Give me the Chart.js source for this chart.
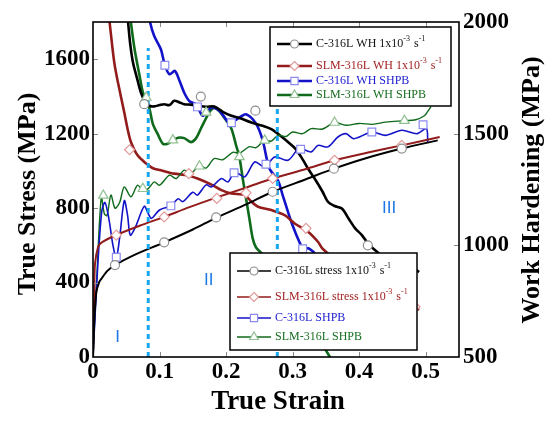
<!DOCTYPE html>
<html>
<head>
<meta charset="utf-8">
<script src="https://cdn.jsdelivr.net/npm/chart.js@4.4.1/dist/chart.umd.min.js"></script>
<style>
  html, body { margin: 0; padding: 0; background: #fff; }
  #wrap { width: 551px; height: 422px; }
</style>
</head>
<body>
<div id="wrap"><canvas id="chart" width="551" height="422"></canvas></div>
<script>
// axis ticks
const strainTicks = [0, 0.1, 0.2, 0.3, 0.4, 0.5];
const stressTicks = [0, 400, 800, 1200, 1600];
const whTicks = [500, 1000, 1500, 2000];

// true stress curves (left axis)
const cQsStrain = [0, 0.002, 0.005, 0.009, 0.0125, 0.022, 0.033, 0.06, 0.107, 0.15, 0.185, 0.23, 0.27, 0.32, 0.362, 0.41, 0.464, 0.518];
const cQsStress = [0, 200, 348, 400, 420, 464, 494, 545, 616, 685, 748, 820, 888, 955, 1012, 1068, 1120, 1164];

const slmQsStrain = [0, 0.002, 0.003, 0.0075, 0.012, 0.02, 0.034, 0.07, 0.107, 0.145, 0.184, 0.23, 0.27, 0.32, 0.363, 0.415, 0.464, 0.521];
const slmQsStress = [0, 380, 500, 590, 612, 630, 654, 705, 753, 805, 855, 910, 959, 1010, 1057, 1100, 1137, 1182];

const cDynStrain = [0, 0.006, 0.013, 0.018, 0.024, 0.03, 0.035, 0.04, 0.047, 0.052, 0.056, 0.064, 0.077, 0.083, 0.088, 0.1, 0.117, 0.128, 0.135, 0.15, 0.157, 0.17, 0.178, 0.193, 0.203, 0.213, 0.228, 0.243, 0.258, 0.273, 0.293, 0.31, 0.328, 0.338, 0.353, 0.368, 0.38, 0.392, 0.419, 0.44, 0.464, 0.487, 0.501, 0.503];
const cDynStress = [0, 420, 780, 830, 740, 600, 534, 640, 840, 760, 655, 700, 810, 770, 745, 790, 812, 850, 835, 885, 870, 925, 914, 959, 941, 995, 968, 1048, 1021, 1075, 1057, 1120, 1102, 1137, 1129, 1182, 1200, 1173, 1209, 1191, 1218, 1200, 1227, 1150];

const slmDynStrain = [0, 0.006, 0.0125, 0.017, 0.021, 0.027, 0.033, 0.04, 0.047, 0.057, 0.067, 0.075, 0.083, 0.092, 0.1, 0.115, 0.125, 0.137, 0.147, 0.16, 0.17, 0.182, 0.195, 0.21, 0.22, 0.235, 0.245, 0.258, 0.268, 0.278, 0.29, 0.3, 0.315, 0.328, 0.345, 0.363, 0.38, 0.4, 0.42, 0.44, 0.468, 0.485, 0.498, 0.503, 0.508];
const slmDynStress = [0, 450, 860, 770, 760, 870, 800, 830, 914, 861, 923, 896, 905, 941, 923, 977, 959, 1004, 986, 1030, 1015, 1066, 1060, 1100, 1095, 1130, 1125, 1164, 1160, 1191, 1185, 1209, 1200, 1227, 1225, 1260, 1245, 1255, 1250, 1262, 1270, 1275, 1296, 1320, 1345];

// work hardening curves (right axis)
const cQsWhStrain = [0.051, 0.053, 0.056, 0.06, 0.066, 0.072, 0.078, 0.085, 0.092, 0.1, 0.107, 0.115, 0.122, 0.13, 0.137, 0.147, 0.157, 0.17, 0.182, 0.195, 0.208, 0.22, 0.238, 0.255, 0.268, 0.285, 0.293, 0.305, 0.315, 0.323, 0.333, 0.345, 0.353, 0.363, 0.374, 0.384, 0.394, 0.404, 0.415, 0.43, 0.45, 0.464, 0.475, 0.485, 0.49];
const cQsWh = [2050, 1990, 1900, 1820, 1750, 1684, 1645, 1625, 1622, 1628, 1632, 1628, 1647, 1640, 1632, 1630, 1625, 1620, 1622, 1598, 1580, 1570, 1550, 1535, 1520, 1483, 1463, 1430, 1385, 1344, 1299, 1240, 1195, 1176, 1165, 1120, 1076, 1046, 1002, 963, 903, 858, 850, 890, 880];

const slmQsWhStrain = [0.023, 0.025, 0.032, 0.038, 0.047, 0.052, 0.057, 0.067, 0.08, 0.09, 0.102, 0.122, 0.142, 0.157, 0.178, 0.193, 0.208, 0.228, 0.238, 0.248, 0.268, 0.288, 0.303, 0.323, 0.338, 0.345, 0.38, 0.42, 0.46, 0.484, 0.49];
const slmQsWh = [2050, 1997, 1818, 1722, 1595, 1521, 1463, 1403, 1366, 1345, 1336, 1321, 1314, 1299, 1272, 1247, 1232, 1225, 1195, 1173, 1158, 1135, 1098, 1061, 1016, 985, 900, 820, 760, 724, 710];

const cDynWhStrain = [0.084, 0.086, 0.092, 0.102, 0.108, 0.115, 0.123, 0.13, 0.137, 0.145, 0.155, 0.165, 0.178, 0.19, 0.205, 0.22, 0.23, 0.245, 0.255, 0.265, 0.278, 0.285, 0.293, 0.3, 0.31, 0.315, 0.325, 0.335, 0.35, 0.36];
const cDynWh = [2050, 1997, 1937, 1878, 1806, 1766, 1781, 1737, 1684, 1645, 1632, 1580, 1617, 1603, 1550, 1572, 1587, 1545, 1470, 1345, 1290, 1225, 1150, 1089, 1016, 990, 985, 955, 850, 700];

const slmDynWhStrain = [0.055, 0.057, 0.0625, 0.07, 0.075, 0.08, 0.085, 0.09, 0.097, 0.105, 0.112, 0.12, 0.128, 0.137, 0.147, 0.155, 0.162, 0.17, 0.177, 0.183, 0.19, 0.2, 0.208, 0.215, 0.22, 0.225, 0.23, 0.235, 0.24, 0.245, 0.255, 0.27, 0.29, 0.31, 0.33, 0.35, 0.358];
const slmDynWh = [2050, 1997, 1878, 1759, 1684, 1655, 1610, 1543, 1500, 1455, 1455, 1470, 1482, 1480, 1462, 1480, 1522, 1570, 1605, 1615, 1600, 1560, 1522, 1448, 1396, 1299, 1210, 1120, 1031, 990, 960, 900, 810, 720, 630, 530, 490];

// marker positions
const cQsMarkStrain = [0.033, 0.107, 0.185, 0.27, 0.362, 0.464];
const cQsMarkStress = [494, 616, 750, 888, 1012, 1120];
const cWhMarkStrain = [0.077, 0.162, 0.244, 0.413];
const cWhMark = [1632, 1666, 1603, 1000];
const slmQsMarkStrain = [0.035, 0.107, 0.186, 0.27, 0.363, 0.464];
const slmQsMarkStress = [655, 753, 852, 959, 1057, 1137];
const slmWhMarkStrain = [0.055, 0.144, 0.23, 0.32, 0.484];
const slmWhMark = [1428, 1321, 1235, 1076, 725];
const cDynMarkStrain = [0.035, 0.117, 0.212, 0.26, 0.312, 0.419, 0.496];
const cDynMarkStress = [536, 812, 990, 1036, 1116, 1209, 1248];
const cDynWhMarkStrain = [0.108, 0.157, 0.208, 0.315];
const cDynWhMark = [1806, 1620, 1549, 985];
const slmDynMarkStrain = [0.0155, 0.075, 0.16, 0.258, 0.363, 0.468];
const slmDynMarkStress = [868, 904, 1025, 1164, 1260, 1270];
const slmDynWhMarkStrain = [0.08, 0.12, 0.17, 0.22];
const slmDynWhMark = [1662, 1471, 1595, 1396];

// deformation stage boundaries
const stageStrain = [0.083, 0.277];
const stageTop = [1660, 1340];
const stageNames = ['I', 'II', 'III'];
const stageLabelStrain = [0.037, 0.174, 0.445];
const stageLabelStress = [107, 412, 798];

const whLabels = [
  ['C-316L WH 1x10', '-3', ' s', '-1'],
  ['SLM-316L WH 1x10', '-3', ' s', '-1'],
  ['C-316L WH SHPB'],
  ['SLM-316L WH SHPB'],
];
const stressLabels = [
  ['C-316L stress 1x10', '-3', ' s', '-1'],
  ['SLM-316L stress 1x10', '-3', ' s', '-1'],
  ['C-316L SHPB'],
  ['SLM-316L SHPB'],
];

const SERIF = '"Liberation Serif", "Times New Roman", serif';
const COLORS = ['#000000', '#921c1c', '#1212c8', '#0f6a1c'];
const TEXT_COLORS = ['#111111', '#a22222', '#1b1bd0', '#156d1e'];
const MARK_COLORS = ['#8e8e8e', '#e39a9a', '#8a8af0', '#90bf90'];
const MARK_STYLES = ['circle', 'rectRot', 'rect', 'triangle'];
const MARK_SIZES = [4.5, 5, 5.5, 5.5];

const pts = (xs, ys) => xs.map((v, i) => ({ x: v, y: ys[i] }));

function curve(xs, ys, k, width, axis) {
  return {
    data: pts(xs, ys), yAxisID: axis, borderColor: COLORS[k], borderWidth: width,
    pointRadius: 0, tension: 0.3, fill: false, order: 2,
  };
}

function marks(xs, ys, k, axis) {
  return {
    data: pts(xs, ys), yAxisID: axis, showLine: false,
    pointStyle: MARK_STYLES[k], pointRadius: MARK_SIZES[k],
    pointBorderColor: MARK_COLORS[k], pointBackgroundColor: '#fff', pointBorderWidth: 1.2,
    order: 0,
  };
}

function stageLine(i) {
  return {
    data: [{ x: stageStrain[i], y: 0 }, { x: stageStrain[i], y: stageTop[i] }], yAxisID: 'y',
    borderColor: '#17a6f0', borderWidth: 3, borderDash: [5, 4], pointRadius: 0, order: 1,
  };
}

function drawMarker(ctx, style, x, y, r) {
  ctx.beginPath();
  if (style === 'circle') ctx.arc(x, y, r, 0, Math.PI * 2);
  else if (style === 'rect') { const s = r * 0.72; ctx.rect(x - s, y - s, 2 * s, 2 * s); }
  else if (style === 'rectRot') { ctx.moveTo(x, y - r); ctx.lineTo(x + r, y); ctx.lineTo(x, y + r); ctx.lineTo(x - r, y); ctx.closePath(); }
  else { ctx.moveTo(x, y - r); ctx.lineTo(x + r * 0.87, y + r * 0.5); ctx.lineTo(x - r * 0.87, y + r * 0.5); ctx.closePath(); }
  ctx.fill();
  ctx.stroke();
}

function richText(ctx, parts, x, y) {
  let cx = x;
  parts.forEach((p, i) => {
    const sup = i % 2 === 1;
    ctx.font = (sup ? '8px ' : '12px ') + SERIF;
    ctx.fillText(p, cx, sup ? y - 5 : y);
    cx += ctx.measureText(p).width + (sup ? 1 : 0);
  });
}

function drawLegend(ctx, box, labels) {
  ctx.fillStyle = '#fff';
  ctx.fillRect(box.x, box.y, box.w, box.h);
  ctx.strokeStyle = '#000';
  ctx.lineWidth = 1.5;
  ctx.strokeRect(box.x, box.y, box.w, box.h);
  labels.forEach((parts, k) => {
    const y = box.rows[k];
    ctx.strokeStyle = COLORS[k];
    ctx.lineWidth = box.lw;
    ctx.beginPath();
    ctx.moveTo(box.x0, y);
    ctx.lineTo(box.x1, y);
    ctx.stroke();
    ctx.fillStyle = '#fff';
    ctx.strokeStyle = MARK_COLORS[k];
    ctx.lineWidth = 1.2;
    drawMarker(ctx, MARK_STYLES[k], (box.x0 + box.x1) / 2, y, MARK_SIZES[k] - 0.5);
    ctx.fillStyle = TEXT_COLORS[k];
    ctx.textAlign = 'left';
    ctx.textBaseline = 'middle';
    richText(ctx, parts, box.tx, y);
  });
}

const decor = {
  id: 'decor',
  afterDraw(chart) {
    const { ctx, chartArea: a, scales: { x, y, y2 } } = chart;
    ctx.save();

    // inward tick marks
    ctx.strokeStyle = '#8a8a8a';
    ctx.lineWidth = 1;
    ctx.beginPath();
    strainTicks.slice(1).forEach(v => {
      const px = Math.round(x.getPixelForValue(v)) + 0.5;
      ctx.moveTo(px, a.bottom); ctx.lineTo(px, a.bottom - 5);
      ctx.moveTo(px, a.top); ctx.lineTo(px, a.top + 5);
    });
    stressTicks.slice(1).forEach(v => {
      const py = Math.round(y.getPixelForValue(v)) + 0.5;
      ctx.moveTo(a.left, py); ctx.lineTo(a.left + 5, py);
    });
    whTicks.slice(1, -1).forEach(v => {
      const py = Math.round(y2.getPixelForValue(v)) + 0.5;
      ctx.moveTo(a.right, py); ctx.lineTo(a.right - 5, py);
    });
    ctx.stroke();

    // frame
    ctx.strokeStyle = '#000';
    ctx.lineWidth = 1.6;
    ctx.strokeRect(a.left, a.top, a.right - a.left, a.bottom - a.top);

    // stage labels
    ctx.fillStyle = '#1e78e6';
    ctx.font = '17px "Liberation Sans", Arial, sans-serif';
    ctx.textAlign = 'center';
    ctx.textBaseline = 'middle';
    stageNames.forEach((n, i) => {
      ctx.fillText(n, x.getPixelForValue(stageLabelStrain[i]), y.getPixelForValue(stageLabelStress[i]));
    });

    // legends
    drawLegend(ctx, { x: 270, y: 27, w: 181, h: 79, rows: [44, 66, 81, 95], x0: 277, x1: 312, tx: 316, lw: 2.5 }, whLabels);
    drawLegend(ctx, { x: 230, y: 253, w: 187, h: 97, rows: [271, 297, 318, 337], x0: 237, x1: 271, tx: 275, lw: 1.5 }, stressLabels);

    // axis titles
    ctx.fillStyle = '#000';
    ctx.textAlign = 'center';
    ctx.textBaseline = 'middle';
    ctx.font = 'bold 26px ' + SERIF;
    ctx.save();
    ctx.translate(28, 194);
    ctx.rotate(-Math.PI / 2);
    ctx.fillText('True Stress (MPa)', 0, 0);
    ctx.restore();
    ctx.save();
    ctx.translate(532, 190);
    ctx.rotate(-Math.PI / 2);
    ctx.fillText('Work Hardening (MPa)', 0, 0);
    ctx.restore();
    ctx.font = 'bold 27px ' + SERIF;
    ctx.fillText('True Strain', 278, 402);

    ctx.restore();
  },
};

const tickFont = { family: 'Liberation Serif', size: 23, weight: 'bold' };

new Chart(document.getElementById('chart'), {
  type: 'line',
  data: {
    datasets: [
      marks(cQsMarkStrain, cQsMarkStress, 0, 'y'),
      marks(cWhMarkStrain, cWhMark, 0, 'y2'),
      marks(slmQsMarkStrain, slmQsMarkStress, 1, 'y'),
      marks(slmWhMarkStrain, slmWhMark, 1, 'y2'),
      marks(cDynMarkStrain, cDynMarkStress, 2, 'y'),
      marks(cDynWhMarkStrain, cDynWhMark, 2, 'y2'),
      marks(slmDynMarkStrain, slmDynMarkStress, 3, 'y'),
      marks(slmDynWhMarkStrain, slmDynWhMark, 3, 'y2'),
      stageLine(0),
      stageLine(1),
      curve(cQsStrain, cQsStress, 0, 2, 'y'),
      curve(slmQsStrain, slmQsStress, 1, 2, 'y'),
      curve(cDynStrain, cDynStress, 2, 1.6, 'y'),
      curve(slmDynStrain, slmDynStress, 3, 1.4, 'y'),
      curve(cQsWhStrain, cQsWh, 0, 2.6, 'y2'),
      curve(slmQsWhStrain, slmQsWh, 1, 2.6, 'y2'),
      curve(cDynWhStrain, cDynWh, 2, 2.6, 'y2'),
      curve(slmDynWhStrain, slmDynWh, 3, 2.6, 'y2'),
    ],
  },
  options: {
    responsive: false,
    animation: false,
    devicePixelRatio: 1,
    events: [],
    layout: { padding: { top: 22, left: 0, right: 0, bottom: 0 } },
    plugins: { legend: { display: false }, tooltip: { enabled: false } },
    scales: {
      x: {
        type: 'linear', min: 0, max: 0.55,
        afterBuildTicks: s => { s.ticks = strainTicks.map(v => ({ value: v })); },
        afterFit: s => { s.height = 65; },
        grid: { display: false, drawTicks: false },
        border: { display: false },
        ticks: { font: tickFont, color: '#000', padding: 1, maxRotation: 0, autoSkip: false, callback: v => String(v) },
      },
      y: {
        type: 'linear', position: 'left', min: 0, max: 1800,
        afterBuildTicks: s => { s.ticks = stressTicks.map(v => ({ value: v })); },
        afterFit: s => { s.width = 93; },
        grid: { display: false, drawTicks: false },
        border: { display: false },
        ticks: { font: tickFont, color: '#000', padding: 3, callback: v => String(v) },
      },
      y2: {
        type: 'linear', position: 'right', min: 500, max: 2000,
        afterBuildTicks: s => { s.ticks = whTicks.map(v => ({ value: v })); },
        afterFit: s => { s.width = 92; },
        grid: { display: false, drawTicks: false },
        border: { display: false },
        ticks: { font: tickFont, color: '#000', padding: 4, callback: v => String(v) },
      },
    },
  },
  plugins: [decor],
});
</script>
</body>
</html>
